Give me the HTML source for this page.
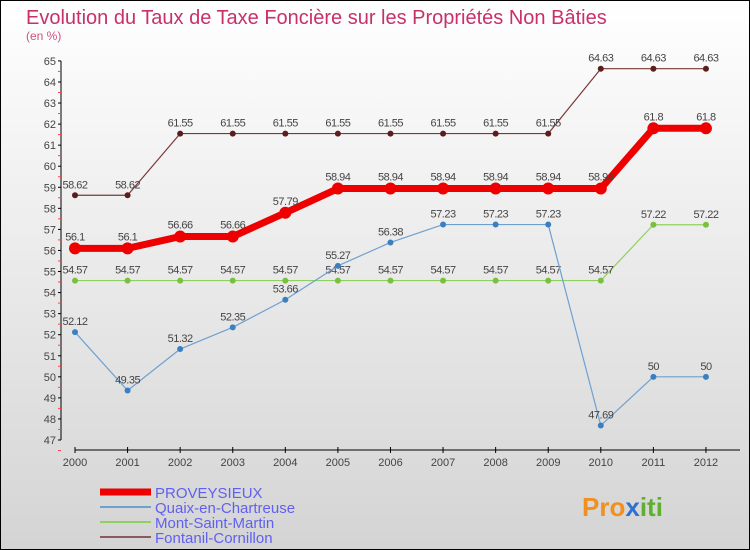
<!DOCTYPE html>
<html><head><meta charset="utf-8"><style>
body{margin:0;width:750px;height:550px;overflow:hidden}
svg{display:block;font-family:"Liberation Sans",sans-serif}
</style></head><body>
<svg id="c" width="750" height="550">
<defs><linearGradient id="bg" x1="0" y1="0" x2="0" y2="1"><stop offset="0" stop-color="#ffffff"/><stop offset="1" stop-color="#d4d4d4"/></linearGradient></defs>
<rect x="0.5" y="0.5" width="749" height="549" fill="url(#bg)" stroke="#000"/>
<text x="26" y="24" font-size="20" fill="#c8306a">Evolution du Taux de Taxe Foncière sur les Propriétés Non Bâties</text>
<text x="26" y="40" font-size="12" fill="#d05080">(en %)</text>
<g id="axes"></g><g id="series"></g><g id="legend"></g>
<text x="582" y="516" font-size="26" font-weight="bold" fill="#f09020">Pro<tspan fill="#3070d0">x</tspan><tspan fill="#60b030">iti</tspan></text>
</svg>
<script>
const years=[2000,2001,2002,2003,2004,2005,2006,2007,2008,2009,2010,2011,2012];
const yTicks=[47,48,49,50,51,52,53,54,55,56,57,58,59,60,61,62,63,64,65];
const proveysieux=[56.1,56.1,56.66,56.66,57.79,58.94,58.94,58.94,58.94,58.94,58.94,61.8,61.8];
const quaix=[52.12,49.35,51.32,52.35,53.66,55.27,56.38,57.23,57.23,57.23,47.69,50,50];
const montSaint=[54.57,54.57,54.57,54.57,54.57,54.57,54.57,54.57,54.57,54.57,54.57,57.22,57.22];
const fontanil=[58.62,58.62,61.55,61.55,61.55,61.55,61.55,61.55,61.55,61.55,64.63,64.63,64.63];
const names=["PROVEYSIEUX","Quaix-en-Chartreuse","Mont-Saint-Martin","Fontanil-Cornillon"];
const NS="http://www.w3.org/2000/svg";
const X=i=>75+i*52.58;
const Y=v=>440-(v-47)*21.06;
function mk(p,t,a){const e=document.createElementNS(NS,t);for(const k in a)e.setAttribute(k,a[k]);p.appendChild(e);return e;}
const ax=document.getElementById('axes');
const ya=mk(ax,'line',{x1:61,y1:Y(65),x2:61,y2:Y(47),stroke:'#000'});


yTicks.forEach(v=>{
 mk(ax,'line',{x1:58,x2:61,y1:Y(v),y2:Y(v),stroke:'#000'});
 mk(ax,'line',{x1:58,x2:61,y1:Y(v)+10.5,y2:Y(v)+10.5,stroke:'#f44'});
 const t=mk(ax,'text',{x:56,y:Y(v)+4,'font-size':11,fill:'#444','text-anchor':'end'});t.textContent=v;
 
 
});
const xa=mk(ax,'line',{x1:75,y1:450,x2:740,y2:450,stroke:'#000'});


years.forEach((y,i)=>{
 mk(ax,'line',{x1:X(i),x2:X(i),y1:447,y2:453,stroke:'#000'});
 const t=mk(ax,'text',{x:X(i),y:466,'font-size':11,fill:'#444','text-anchor':'middle'});t.textContent=y;
 
 
});
const sg=document.getElementById('series');
const defs=[[fontanil,'#7a3838',1.2,3,'#5a1e1e','fontanil-cornillon'],[montSaint,'#90d060',1.2,3,'#7ac040','mont-saint-martin'],[quaix,'#6ea0d0',1.2,3,'#3a80c0','quaix-en-chartreuse'],[proveysieux,'#ee0000',7,6,'#ee0000','proveysieux']];
defs.forEach(([d,c,w,r,pc,n])=>{
 const g=mk(sg,'g',{});
 
 
 mk(g,'polyline',{points:d.map((v,i)=>X(i)+','+Y(v)).join(' '),fill:'none',stroke:c,'stroke-width':w,'stroke-linejoin':'round'});
 d.forEach((v,i)=>{
  const p=mk(g,'circle',{cx:X(i),cy:Y(v),r:r,fill:pc});
  
  
  const t=mk(g,'text',{x:X(i),y:Y(v)-(w>3?8:7),'font-size':11,fill:'#444','text-anchor':'middle','letter-spacing':'-0.5'});t.textContent=v;
  
  
 });
});
const lg=document.getElementById('legend');
const lc=[['#ee0000',7],['#6ea0d0',2],['#90d060',2],['#8a5a5a',2]];
names.forEach((n,i)=>{
 const y=492+i*15;
 const e=mk(lg,'g',{});
 
 
 mk(e,'line',{x1:100,x2:151,y1:y,y2:y,stroke:lc[i][0],'stroke-width':lc[i][1]});
 const t=mk(e,'text',{x:155,y:y+6,'font-size':15,fill:'#6060f0'});t.textContent=n;
});
</script>
</body></html>
